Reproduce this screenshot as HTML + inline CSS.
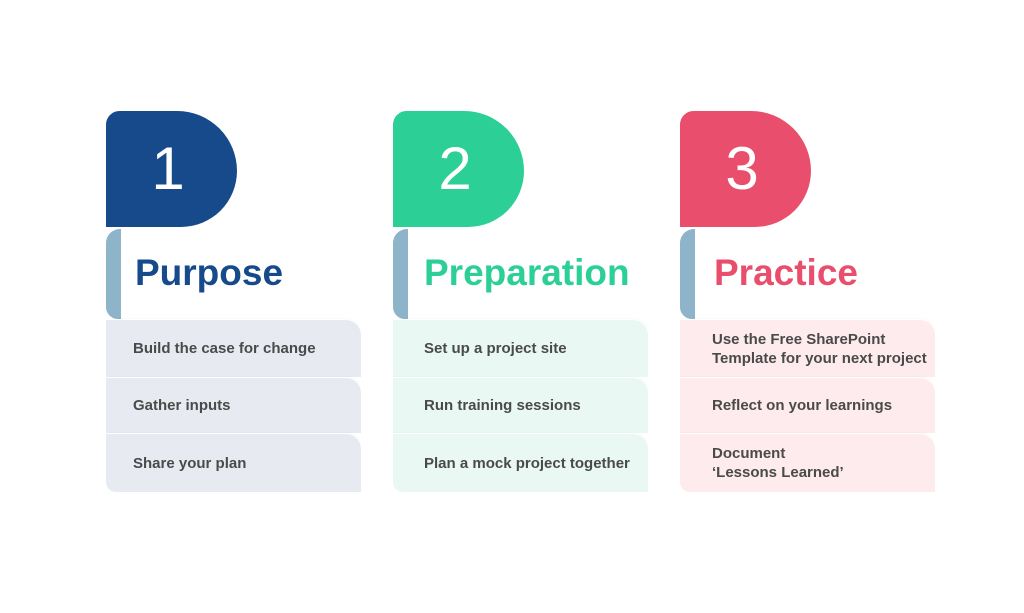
<!DOCTYPE html>
<html><head><meta charset="utf-8"><style>
html,body{margin:0;padding:0;background:#fff;width:1024px;height:613px;overflow:hidden;position:relative;font-family:"Liberation Sans",sans-serif}
.c{position:absolute;top:0;width:260px;height:613px}
.flag{position:absolute;left:0;top:111px;width:131px;height:116px;border-radius:14px 62px 58px 0}
.num{position:absolute;left:0;top:111px;width:124px;height:116px;line-height:116px;text-align:center;color:#fff;font-size:60px;font-weight:normal}
.bar{position:absolute;left:0;top:229px;width:15px;height:90px;background:#8db4c8;border-radius:14px 0 0 12px}
.title{position:absolute;left:29px;top:252px;font-size:37px;font-weight:bold;white-space:nowrap}
.row{position:absolute;left:0;width:255px;border-radius:0 15px 0 0;box-shadow:0 0 0 1px #fff,0 -1px 2px rgba(0,0,0,0.06);font-size:15px;font-weight:bold;color:#4a4a4a;box-sizing:border-box;padding-left:27px;display:flex;align-items:center;line-height:19px}
</style></head><body>

<div class="c" style="left:106px">
<div class="flag" style="background:#164a8b"></div><div class="num">1</div>
<div class="bar"></div>
<div class="title" style="color:#164a8b">Purpose</div>
<div class="row" style="top:320px;height:57px;background:#e7ebf1">Build the case for change</div>
<div class="row" style="top:378px;height:55px;background:#e7ebf1">Gather inputs</div>
<div class="row" style="top:434px;height:58px;background:#e7ebf1;border-radius:0 15px 0 10px">Share your plan</div>
</div>

<div class="c" style="left:393px">
<div class="flag" style="background:#2ccf95"></div><div class="num">2</div>
<div class="bar"></div>
<div class="title" style="color:#2ccf95;left:31px">Preparation</div>
<div class="row" style="top:320px;height:57px;background:#e9f8f2;padding-left:31px">Set up a project site</div>
<div class="row" style="top:378px;height:55px;background:#e9f8f2;padding-left:31px">Run training sessions</div>
<div class="row" style="top:434px;height:58px;background:#e9f8f2;border-radius:0 15px 0 10px;padding-left:31px">Plan a mock project together</div>
</div>

<div class="c" style="left:680px">
<div class="flag" style="background:#e94f6d"></div><div class="num">3</div>
<div class="bar"></div>
<div class="title" style="color:#e94f6d;left:34px">Practice</div>
<div class="row" style="top:320px;height:57px;background:#fdebee;padding-left:32px">Use the Free SharePoint<br>Template for your next project</div>
<div class="row" style="top:378px;height:55px;background:#fdebee;padding-left:32px">Reflect on your learnings</div>
<div class="row" style="top:434px;height:58px;background:#fdebee;border-radius:0 15px 0 10px;padding-left:32px">Document<br>‘Lessons Learned’</div>
</div>

</body></html>
